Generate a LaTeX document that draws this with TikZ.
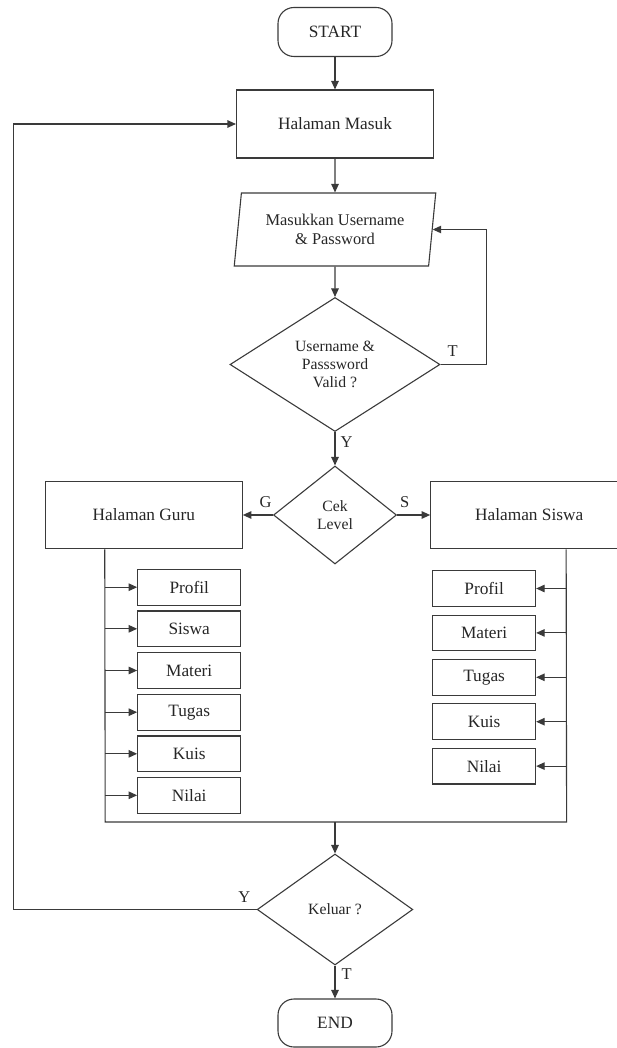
\documentclass[tikz,border=0pt]{standalone}
\usepackage{fontspec}
\setmainfont{Liberation Serif}
\usetikzlibrary{shapes.geometric,arrows.meta,calc}
\definecolor{ink}{HTML}{262626}
\definecolor{edge}{HTML}{3A3A3A}
\begin{document}
\begin{tikzpicture}[x=1pt,y=-1pt,
  every node/.style={text=ink},
  shp/.style={draw=edge, line width=1.1pt, inner sep=0pt, align=center},
  txt/.style={font=\fontsize{17.3}{20}\selectfont},
  small/.style={font=\fontsize{15.7}{18}\selectfont},
  term/.style={shp, txt, rectangle, rounded corners=16pt, minimum width=114pt, minimum height=49pt},
  proc/.style={shp, txt, rectangle, minimum width=197pt, minimum height=68pt},
  sub/.style={shp, txt, rectangle, minimum width=103pt, minimum height=35.7pt},
  io/.style={shp, trapezium, trapezium left angle=77, trapezium right angle=103,
    trapezium stretches body, minimum width=201.5pt, minimum height=73pt,
    font=\fontsize{16.4}{19.4}\selectfont},
  decide/.style={shp, small, diamond},
  lbl/.style={font=\fontsize{16.5}{18}\selectfont, inner sep=0pt},
  link/.style={draw=edge, line width=1.1pt},
  arr/.style={link, -{Triangle[length=8.5pt,width=7.5pt]}}
]
\useasboundingbox (0,0) rectangle (616,1048);

% main column
\node[term] (start) at (335,32) {START};
\node[proc] (masuk) at (335,124) {Halaman Masuk};
\node[io] (input) at (335,229.5) {Masukkan Username\\\& Password};
\node[decide, minimum width=210pt, minimum height=134pt] (valid) at (335,364.5) {Username \&\\Passsword\\Valid ?};
\node[decide, minimum width=123pt, minimum height=98pt] (level) at (335,515) {Cek\\Level};
\node[proc, minimum height=67.6pt] (guru) at (143.8,515) {Halaman Guru};
\node[proc, minimum height=67.6pt] (siswa) at (529.2,515) {Halaman Siswa};

% teacher menu
\node[sub] (g1) at (189.2,587.2) {Profil};
\node[sub] (g2) at (189.2,628.8) {Siswa};
\node[sub] (g3) at (189.2,670.5) {Materi};
\node[sub] (g4) at (189.2,712.2) {Tugas};
\node[sub] (g5) at (189.2,753.8) {Kuis};
\node[sub] (g6) at (189.2,795.3) {Nilai};

% student menu
\node[sub] (s1) at (484.1,588.5) {Profil};
\node[sub] (s2) at (484.1,632.9) {Materi};
\node[sub] (s3) at (484.1,677.3) {Tugas};
\node[sub] (s4) at (484.1,721.7) {Kuis};
\node[sub] (s5) at (484.1,766.1) {Nilai};

\node[decide, minimum width=155.6pt, minimum height=111pt] (keluar) at (335,909.5) {Keluar ?};
\node[term, minimum height=48pt] (end) at (335,1023) {END};

% branch labels
\node[lbl] (lt1) at (452.6,350.7) {T};
\node[lbl] (ly1) at (346.6,442.3) {Y};
\node[lbl] (lg) at (265.6,502) {G};
\node[lbl] (ls) at (404.7,502) {S};
\node[lbl] (ly2) at (244.4,896.7) {Y};
\node[lbl] (lt2) at (346.6,974.3) {T};

% helper points for the menu rails
\coordinate (gtop) at ($(guru.south west)+(60,0)$);
\coordinate (stop) at ($(siswa.south west)+(136,0)$);
\coordinate (gbot) at (105.2,822);
\coordinate (sbot) at (566.6,822);
\coordinate (rail) at (13.8,909.5);

% flow
\draw[arr] (start) -- (masuk);
\draw[arr] (masuk) -- (input);
\draw[arr] (input) -- (valid);
\draw[arr] (valid.east) -- ++(45.6,0) |- (input.east);
\draw[arr] (valid) -- (level);
\draw[arr] (level.west) -- (guru.east);
\draw[arr] (level.east) -- (siswa.west);

\draw[link] (gtop) -- (gbot) -- (sbot) -- (stop);
\foreach \n in {g1,g2,g3,g4,g5,g6}
  \draw[arr] (gtop |- \n.west) -- (\n.west);
\foreach \n in {s1,s2,s3,s4,s5}
  \draw[arr] (stop |- \n.east) -- (\n.east);

\draw[arr] (gbot -| keluar.north) -- (keluar.north);
\draw[arr] (keluar.west) -- (rail) |- (masuk.west);
\draw[arr] (keluar) -- (end);
\end{tikzpicture}
\end{document}
